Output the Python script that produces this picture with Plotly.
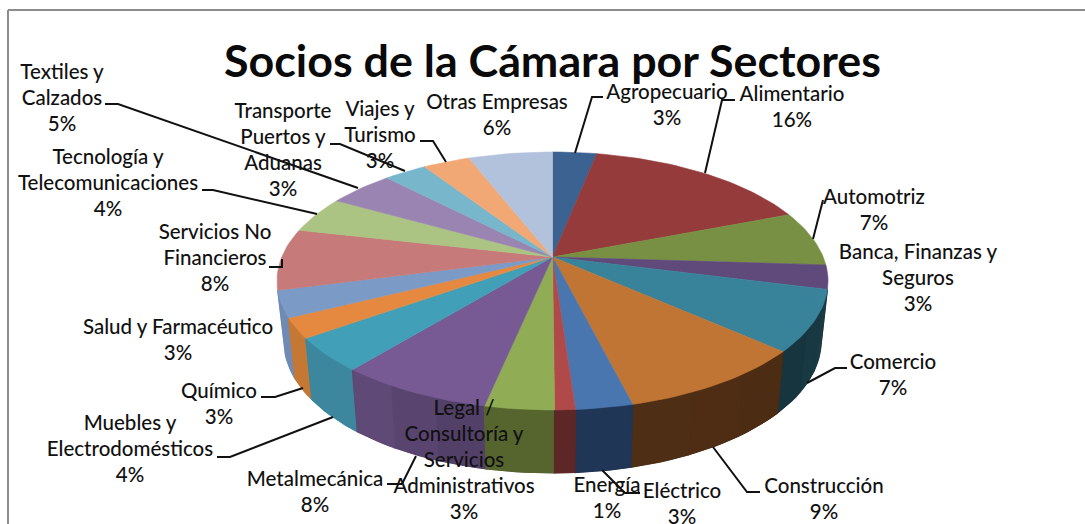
import numpy as np
import plotly.graph_objects as go

# ---------- data ----------
sectors = ["Agropecuario", "Alimentario", "Automotriz", "Banca, Finanzas y Seguros", "Comercio",
           "Construcción", "Eléctrico", "Energía", "Legal / Consultoría y Servicios Administrativos",
           "Metalmecánica", "Muebles y Electrodomésticos", "Químico", "Salud y Farmacéutico",
           "Servicios No Financieros", "Tecnología y Telecomunicaciones", "Textiles y Calzados",
           "Transporte Puertos y Aduanas", "Viajes y Turismo", "Otras Empresas"]
shares = [3.1, 16.0, 6.9, 3.0, 7.6, 9.5, 2.8, 1.0, 3.4, 7.6, 4.2, 2.5, 3.3, 7.7, 4.6, 4.6, 3.0, 3.3, 5.9]
percent_labels = ["3%", "16%", "7%", "3%", "7%", "9%", "3%", "1%", "3%", "8%", "4%", "3%", "3%", "8%",
                  "4%", "5%", "3%", "3%", "6%"]
label_lines = [["Agropecuario"], ["Alimentario"], ["Automotriz"], ["Banca, Finanzas y", "Seguros"], ["Comercio"],
               ["Construcción"], ["Eléctrico"], ["Energía"], ["Legal /", "Consultoría y", "Servicios", "Administrativos"],
               ["Metalmecánica"], ["Muebles y", "Electrodomésticos"], ["Químico"], ["Salud y Farmacéutico"],
               ["Servicios No", "Financieros"], ["Tecnología y", "Telecomunicaciones"], ["Textiles y", "Calzados"],
               ["Transporte", "Puertos y", "Aduanas"], ["Viajes y", "Turismo"], ["Otras Empresas"]]
title_text = "Socios de la Cámara por Sectores"

# ---------- styles ----------
top_colors = ["#3B6290", "#953B3B", "#789043", "#604A7B", "#38839A", "#C17534", "#4A76B0", "#B04A4A", "#90AD55",
              "#775A93", "#429FB8", "#E4893F", "#7C9AC6", "#C67B7A", "#ABC483", "#9A84B2", "#78B6CC", "#F2A875", "#B2C2DC"]
wall_colors = {4: ("#1B3B46", "#16343E"), 5: ("#4C2C13", "#4F2E15"), 6: ("#1E3454", "#213758"),
               7: ("#5C2626", "#602828"), 8: ("#54632E", "#58672F"), 9: ("#503E66", "#624B7A"),
               10: ("#3A8096", "#3F8EA6"), 11: ("#BE7431", "#CA7C36"), 12: ("#6A84AC", "#7490BA")}
CX, CY = 552.5, 257.0
RX, RY, K = 270.7, 124.5, 0.186
DEPTH, SHRINK = 59.0, 0.975
FONT = "Lato"
TEXT_COLOR = "#111111"
LINE_H = 26.0

# label anchor: centre x, first line centre y
label_anchor = [(667, 93.5), (792, 95.5), (874, 198.5), (918, 253.5), (893, 363.5), (824, 487.5), (682, 492.5), (607, 486.5),
                (464, 409.5), (315, 480.5), (130, 424.5), (219, 392.5), (178, 328.5), (215, 233.5), (108, 158.5), (62, 73.5),
                (283, 112.5), (380, 110.5), (497, 103.5)]
leaders = [
    [(603, 97), (592, 97), (575, 153)],
    [(735, 100), (722, 100), (705, 173)],
    [(823, 200), (813, 239)],
    [(847, 368), (835, 368), (807, 383)],
    [(760, 492), (747, 492), (713, 447)],
    [(640, 493), (625, 493), (602, 470)],
    [(387, 484), (402, 484), (416, 456)],
    [(217, 457), (230, 457), (333, 417)],
    [(261, 397), (275, 397), (303, 388)],
    [(269, 267), (282, 267), (282, 259)],
    [(202, 190), (213, 190), (317, 214)],
    [(105, 104), (118, 104), (358, 188)],
    [(330, 144), (340, 144), (405, 171)],
    [(420, 141), (433, 141), (446, 162)],
]


def rim(theta):
    u, v = np.sin(theta), -np.cos(theta)
    w = 1 - K * v
    return CX + RX * u / w, CY + RY * v / w, v


def base(theta):
    x, y, v = rim(theta)
    return CX + (x - CX) * SHRINK, y + DEPTH + 4 * v


def mix(c1, c2, t):
    a = [int(c1[i:i + 2], 16) for i in (1, 3, 5)]
    b = [int(c2[i:i + 2], 16) for i in (1, 3, 5)]
    return "rgb(%d,%d,%d)" % tuple(round(p + (q - p) * t) for p, q in zip(a, b))


fig = go.Figure()
edges = np.cumsum([0] + shares) / sum(shares) * 2 * np.pi


def poly(xs, ys, color, lw=0.6):
    fig.add_trace(go.Scatter(x=xs, y=ys, mode="lines", fill="toself", fillcolor=color,
                             line=dict(color=color, width=lw), hoverinfo="skip", showlegend=False))


def wall(a0, a1, color, lw=0.6):
    th = np.linspace(a0, a1, max(3, int((a1 - a0) / np.radians(1.5))))
    tx, ty, _ = rim(th)
    bx, by = base(th)
    poly(list(tx) + list(bx[::-1]) + [tx[0]], list(ty) + list(by[::-1]) + [ty[0]], color, lw)


# outer walls, from the sides towards the front; one solid layer, then a soft left-right shade
order = sorted(wall_colors, key=lambda i: rim((edges[i] + edges[i + 1]) / 2)[2])
for i in order:
    c_start, c_end = wall_colors[i]
    a0, a1 = edges[i], edges[i + 1]
    wall(a0, a1, mix(c_start, c_end, 0.5))
    n = max(1, int((a1 - a0) / np.radians(9)))
    cuts = np.linspace(a0, a1, n + 1)
    for j in range(n):
        wall(cuts[j], cuts[j + 1], mix(c_start, c_end, (j + 0.5) / n), 1.2)

# top faces
for i, col in enumerate(top_colors):
    n = max(3, int((edges[i + 1] - edges[i]) / np.radians(1.5)))
    th = np.linspace(edges[i], edges[i + 1], n)
    tx, ty, _ = rim(th)
    poly([CX] + list(tx) + [CX], [CY] + list(ty) + [CY], col)

# leader lines
for pts in leaders:
    fig.add_trace(go.Scatter(x=[p[0] for p in pts], y=[p[1] for p in pts], mode="lines",
                             line=dict(color="#111111", width=2), hoverinfo="skip", showlegend=False))

# data labels
tx, ty, tt = [], [], []
for (ax, ay), lines, pct in zip(label_anchor, label_lines, percent_labels):
    for k, s in enumerate(lines + [pct]):
        tx.append(ax)
        ty.append(ay + k * LINE_H)
        tt.append(s)
fig.add_trace(go.Scatter(x=tx, y=ty, text=tt, mode="text", textposition="middle center",
                         textfont=dict(family=FONT, size=20.5, color=TEXT_COLOR, weight=500),
                         hoverinfo="skip", showlegend=False))

fig.add_annotation(x=552, y=60, text=title_text, showarrow=False, xanchor="center", yanchor="middle",
                   font=dict(family=FONT, size=44.8, color="#0a0a0a", weight=700))

fig.update_layout(
    width=1085, height=524, margin=dict(l=0, r=0, t=0, b=0),
    paper_bgcolor="white", plot_bgcolor="white", showlegend=False,
    xaxis=dict(range=[0, 1085], visible=False, fixedrange=True),
    yaxis=dict(range=[524, 0], visible=False, fixedrange=True),
    shapes=[
        dict(type="line", xref="x", yref="y", x0=8, y0=10, x1=1085, y1=10, line=dict(color="#8c8c8c", width=2)),
        dict(type="line", xref="x", yref="y", x0=8, y0=10, x1=8, y1=524, line=dict(color="#8c8c8c", width=2)),
    ],
)
fig.write_html("out.html", config={"displayModeBar": False}, post_script="document.body.style.margin='0';")
